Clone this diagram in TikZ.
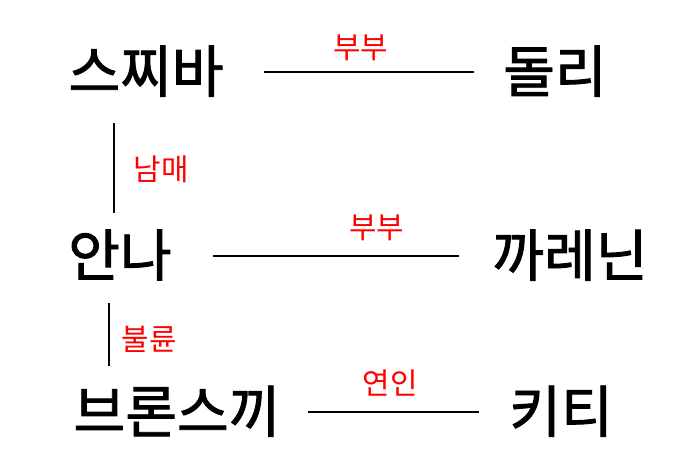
\documentclass[tikz,border=0pt]{standalone}
\usepackage{fontspec}
\newfontfamily\kr{Noto Sans CJK KR}
\newfontfamily\krthick[FakeBold=1.6]{Noto Sans CJK KR}
\usetikzlibrary{calc}
\definecolor{tie}{HTML}{FF0000}
\tikzset{
  person/.style={font=\krthick\fontsize{32}{32}\selectfont, inner sep=0pt, text height=25.6pt, text depth=2.6pt},
  tieLine/.style={line width=1.4pt, draw=black},
  sideLine/.style={line width=1.1pt, draw=black},
  tieLab/.style={text=tie, font=\kr\fontsize{17}{17}\selectfont, inner sep=0pt, text height=13.6pt, text depth=1.4pt}
}
\begin{document}
\begin{tikzpicture}
\fill[white] (0,0) rectangle (14,9.44);
\useasboundingbox (0,0) rectangle (14,9.44);
% first row
\node[person] (stiva) at (2.92,8.0) {스찌바};
\node[person] (dolly) at (11.1,8.0) {돌리};
\draw[tieLine, shorten <=0.8cm, shorten >=0.58cm] (stiva) -- node[tieLab, pos=0.49, above=0.19cm] (l1) {부부} (dolly);

% second row
\node[person] (anna) at (2.4,4.32) {안나};
\node[person] (karenin) at (11.4,4.32) {까레닌};
\draw[tieLine, shorten <=0.82cm, shorten >=0.66cm] (anna) -- node[tieLab, pos=0.64, above=0.28cm] (l2) {부부} (karenin);

% third row
\node[person] (vronsky) at (3.54,1.2) {브론스끼};
\node[person] (kitty) at (11.22,1.2) {키티};
\draw[tieLine, yshift=-0.14cm, shorten <=0.54cm, shorten >=0.6cm] (vronsky) -- node[tieLab, pos=0.48, above=0.28cm] (l3) {연인} (kitty);

% vertical ties
\coordinate (v1) at (2.28,0);
\coordinate (v2) at (2.18,0);
\draw[sideLine, shorten <=0.52cm, shorten >=0.36cm] (v1 |- stiva.south) -- node[tieLab, pos=0.54, right=0.38cm] (l4) {남매} (v1 |- anna.north);
\draw[sideLine, shorten <=0.44cm, shorten >=0.42cm] (v2 |- anna.south) -- node[tieLab, pos=0.55, right=0.24cm] (l5) {불륜} (v2 |- vronsky.north);
\end{tikzpicture}
\end{document}
